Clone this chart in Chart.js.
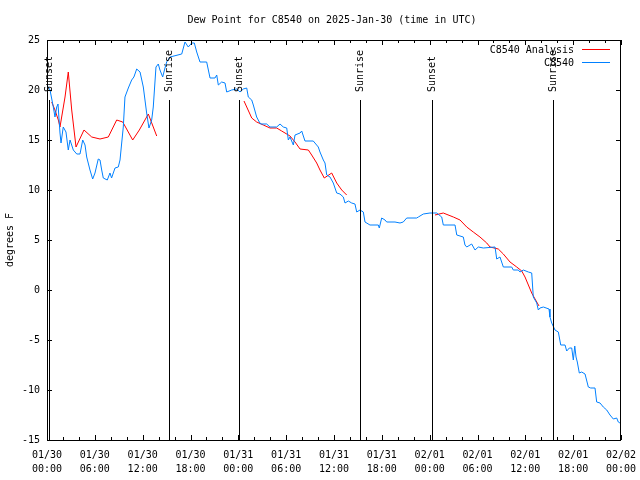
<!DOCTYPE html>
<html>
<head>
<meta charset="utf-8">
<script src="https://cdn.jsdelivr.net/npm/chart.js@4/dist/chart.umd.min.js"></script>
<style>
  html, body { margin: 0; padding: 0; background: #fff; }
  #wrap { width: 640px; height: 480px; }
</style>
</head>
<body>
<div id="wrap"><canvas id="dew"></canvas></div>
<script>
// hours since 2025-01-30 00:00 UTC
const obsHours = [0.0, 0.38, 0.79, 1.0, 1.22, 1.38, 1.63, 1.76, 2.04, 2.38, 2.67, 2.89, 3.3, 3.73, 4.14, 4.48, 4.77, 4.98,
  5.39, 5.73, 6.02, 6.43, 6.65, 6.86, 7.06, 7.56, 7.9, 8.1, 8.53, 8.94, 9.16, 9.37, 9.57, 9.78, 10.2, 10.62, 10.9,
  11.25, 11.67, 12.08, 12.5, 12.79, 13.13, 13.33, 13.67, 13.96, 14.17, 14.51, 14.8, 15.01, 15.43, 16.9, 17.31, 17.72,
  18.15, 18.48, 18.78, 19.19, 20.03, 20.45, 21.07, 21.29, 21.49, 21.91, 22.33, 22.54, 23.17, 23.8, 24.21, 24.62,
  25.05, 25.25, 25.68, 25.88, 26.3, 26.63, 26.81, 27.56, 27.97, 28.81, 29.23, 29.64, 30.07, 30.27, 30.48, 30.9,
  31.11, 31.74, 31.95, 32.36, 33.4, 34.03, 34.24, 34.66, 34.87, 35.09, 35.5, 35.91, 36.34, 36.75, 37.17, 37.38,
  37.8, 38.22, 38.63, 38.85, 39.26, 39.68, 39.89, 40.51, 41.56, 41.68, 41.98, 42.4, 42.61, 43.65, 44.28, 44.69,
  45.12, 46.37, 46.58, 47.2, 48.04, 48.88, 49.51, 49.71, 51.18, 51.4, 52.22, 52.43, 52.65, 53.27, 53.69, 54.1,
  54.73, 56.2, 56.41, 56.82, 57.24, 58.29, 58.49, 59.12, 59.33, 59.75, 60.38, 60.8, 61.0, 61.43, 61.63, 61.84,
  62.26, 62.97, 63.09, 63.31, 63.72, 64.14, 64.44, 64.98, 65.19, 65.52, 65.82, 66.02, 66.2, 66.36, 66.52, 66.77,
  67.07, 67.49, 67.9, 68.2, 68.74, 68.95, 69.37, 69.78, 70.21, 70.62, 71.04, 71.46, 71.66, 71.87];
const obsDew = [20.5, 20, 18.3, 17.3, 18.3, 18.6, 15.7, 14.7, 16.3, 15.8, 14, 15, 14, 13.6, 13.6, 15, 14.5, 13.3,
  12, 11.1, 11.7, 13.1, 13, 12, 11.2, 11, 11.7, 11.2, 12.2, 12.3, 13, 14.7, 16.3, 19.3, 20.2, 21, 21.3,
  22.1, 21.8, 20.3, 17.7, 16.2, 17, 18.3, 22.3, 22.6, 22, 21.3, 22.2, 22.8, 23.3, 23.6, 24.8, 24.3,
  24.7, 24.7, 23.8, 22.8, 22.8, 21.2, 21.2, 21.5, 20.5, 20.8, 20.7, 19.8, 20, 20.1, 19.8, 20.1,
  20.2, 19.3, 19, 18.5, 17.3, 16.8, 16.6, 16.6, 16.3, 16.3, 16.6, 16.3, 16.2, 15, 15.3, 14.5,
  15.5, 15.7, 15.9, 14.9, 14.9, 14.3, 13.8, 13, 12.7, 11.5, 11.3, 10.7, 9.7, 9.6, 9.3, 8.7,
  8.9, 8.7, 8.6, 7.8, 8, 7.8, 6.8, 6.5, 6.5, 6.2, 7.2, 7, 6.8, 6.8, 6.7, 6.8,
  7.2, 7.2, 7.3, 7.6, 7.7, 7.7, 7.3, 6.5, 6.5, 5.5, 5.3, 4.5, 4.3, 4.6, 4, 4.3,
  4.2, 4.3, 3.1, 3.3, 2.3, 2.3, 2, 2, 1.8, 2, 1.8, 1.7, -0.7, -1.3, -2, -1.8,
  -1.7, -1.9, -2.7, -3.3, -4, -4.2, -5.5, -5.5, -6.1, -5.8, -5.8, -7, -5.6, -6.7, -7.2, -8.3,
  -8.2, -8.4, -9.7, -9.8, -9.8, -11.2, -11.3, -11.7, -12, -12.5, -12.9, -12.8, -13.2, -13.3];

// analysis runs, null = gap between runs
const anaHours = [0.59, 1.0, 1.42, 1.63, 2.26, 2.67, 3.1, 3.64, 4.64, 5.61, 6.65, 7.69, 8.74, 9.5, 10.75, 11.58, 12.71, 13.76,
  19,
  24.71, 25.68, 26.3, 27.13, 27.97, 28.81, 29.44, 30.48, 31.11, 31.74, 32.78, 33.2, 33.83, 34.24, 34.78, 35.71, 36.34, 36.97, 37.59,
  43,
  48.67, 49.71, 50.97, 51.81, 52.65, 53.47, 54.31, 55.16, 55.57, 56.61, 57.24, 58.08, 58.92, 59.55, 59.96, 60.38, 60.8, 61.43, 61.72];
const anaDew = [18.8, 18, 17, 16.3, 19.3, 21.8, 18, 14.3, 16, 15.3, 15.1, 15.3, 17, 16.8, 15, 16, 17.6, 15.4,
  null,
  18.9, 17.2, 16.8, 16.5, 16.2, 16.2, 15.9, 15.4, 14.8, 14.1, 14, 13.5, 12.7, 12, 11.2, 11.7, 10.7, 10, 9.5,
  null,
  7.5, 7.7, 7.3, 7, 6.3, 5.8, 5.3, 4.7, 4.3, 4.1, 3.6, 2.8, 2.3, 1.9, 1.3, 0.5, -0.3, -1.2, -1.6];

const sunHours = [0.2, 15.34, 24.1, 39.3, 48.25, 63.43];
const sunLabels = ['Sunset', 'Sunrise', 'Sunset', 'Sunrise', 'Sunset', 'Sunrise'];
const sunLineTop = 19;

const FONT = '10px "DejaVu Sans Mono", monospace';
const base = Date.UTC(2025, 0, 30);
const pad = n => String(n).padStart(2, '0');

function stamp(h) {
  const d = new Date(base + h * 3600e3);
  return [pad(d.getUTCMonth() + 1) + '/' + pad(d.getUTCDate()), pad(d.getUTCHours()) + ':' + pad(d.getUTCMinutes())];
}

const pairs = (xs, ys) => xs.map((x, i) => ({ x, y: ys[i] }));

// frame, inward ticks on all sides, sun lines, legend, title
const gnuDeco = {
  id: 'gnuDeco',
  afterDatasetsDraw(chart) {
    const { ctx, chartArea: a, scales: { x, y } } = chart;
    ctx.save();
    ctx.strokeStyle = '#000';
    ctx.lineWidth = 1;

    ctx.beginPath();
    for (let h = 0; h <= 72; h += 2) {
      const px = Math.round(x.getPixelForValue(h)) + 0.5;
      const len = h % 6 === 0 ? 5 : 3;
      ctx.moveTo(px, a.bottom); ctx.lineTo(px, a.bottom - len);
      ctx.moveTo(px, a.top); ctx.lineTo(px, a.top + len);
    }
    y.ticks.forEach(t => {
      const py = Math.round(y.getPixelForValue(t.value)) + 0.5;
      ctx.moveTo(a.left, py); ctx.lineTo(a.left + 5, py);
      ctx.moveTo(a.right, py); ctx.lineTo(a.right - 5, py);
    });
    ctx.stroke();

    // sunrise / sunset
    ctx.font = FONT;
    ctx.fillStyle = '#000';
    const yTop = y.getPixelForValue(sunLineTop);
    sunHours.forEach((h, i) => {
      const px = Math.round(x.getPixelForValue(h)) + 0.5;
      ctx.beginPath();
      ctx.moveTo(px, yTop); ctx.lineTo(px, a.bottom);
      ctx.stroke();
      ctx.save();
      ctx.translate(px, yTop - 8);
      ctx.rotate(-Math.PI / 2);
      ctx.textAlign = 'left';
      ctx.textBaseline = 'middle';
      ctx.fillText(sunLabels[i], 0, 0);
      ctx.restore();
    });

    ctx.strokeRect(a.left + 0.5, a.top + 0.5, a.right - a.left - 1, a.bottom - a.top);

    // legend, gnuplot style: text right aligned, sample on the right
    const legendOrder = [1, 0];
    legendOrder.forEach((di, row) => {
      const ds = chart.data.datasets[di];
      const ly = 50 + row * 13;
      ctx.textAlign = 'right';
      ctx.textBaseline = 'middle';
      ctx.fillText(ds.label, 574, ly);
      ctx.strokeStyle = ds.borderColor;
      ctx.beginPath();
      ctx.moveTo(582, ly - 0.5); ctx.lineTo(610, ly - 0.5);
      ctx.stroke();
    });

    ctx.fillStyle = '#000';
    ctx.textAlign = 'center';
    ctx.fillText('Dew Point for C8540 on 2025-Jan-30 (time in UTC)', 332, 20);
    ctx.restore();
  }
};

new Chart(document.getElementById('dew'), {
  type: 'line',
  data: {
    datasets: [
      { label: 'C8540', data: pairs(obsHours, obsDew), borderColor: '#0080ff', order: 0 },
      { label: 'C8540 Analysis', data: pairs(anaHours, anaDew), borderColor: '#ff0000', order: 1 }
    ]
  },
  options: {
    responsive: true,
    maintainAspectRatio: false,
    animation: false,
    spanGaps: false,
    elements: { point: { radius: 0 }, line: { borderWidth: 1, tension: 0 } },
    layout: { padding: { top: 40, right: 19, left: 0, bottom: 0 } },
    plugins: { legend: { display: false }, tooltip: { enabled: false } },
    scales: {
      x: {
        type: 'linear', min: 0, max: 72,
        grid: { display: false, drawTicks: false },
        border: { display: false },
        afterFit: s => { s.height = 40; s.paddingLeft = 0; s.paddingRight = 0; },
        ticks: {
          stepSize: 6, autoSkip: false, maxRotation: 0, padding: 8,
          color: '#000', font: { family: 'DejaVu Sans Mono', size: 10, lineHeight: 1.4 },
          callback: v => stamp(v)
        }
      },
      y: {
        min: -15, max: 25,
        grid: { display: false, drawTicks: false },
        border: { display: false },
        afterFit: s => { s.width = 47; s.paddingTop = 0; s.paddingBottom = 0; },
        ticks: { stepSize: 5, padding: 7, color: '#000', font: { family: 'DejaVu Sans Mono', size: 10 } },
        title: { display: true, text: 'degrees F', color: '#000', padding: { top: 4, bottom: 0 },
          font: { family: 'DejaVu Sans Mono', size: 10 } }
      }
    }
  },
  plugins: [gnuDeco]
});
</script>
</body>
</html>
